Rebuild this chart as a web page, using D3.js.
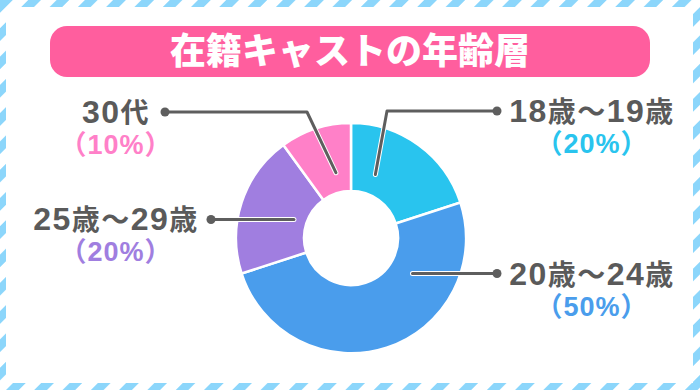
<!DOCTYPE html>
<html>
<head>
<meta charset="utf-8">
<script src="https://cdn.jsdelivr.net/npm/d3@7"></script>
<style>
  body { margin: 0; background: #fff; }
  svg { display: block; }
</style>
</head>
<body>
<div id="chart"></div>
<script>
// data
const title = "在籍キャストの年齢層"
const categories = ["18歳～19歳", "20歳～24歳", "25歳～29歳", "30代"]
const values = [20, 50, 20, 10]
const percentLabels = ["（20%）", "（50%）", "（20%）", "（10%）"]
const colors = ["#29c4ee", "#4a9dec", "#a07ee0", "#ff80c8"]

const width = 700
const height = 390
const cx = 351, cy = 238
const outerR = 115, innerR = 47

const labelFont = "'Liberation Sans', 'Noto Sans CJK JP', sans-serif"

// leader layout: anchor angle (deg, clockwise from top), elbow, dot
const leaders = [
  { angle: 21, r: 68, elbowX: 387, y: 111, dotX: 497, side: "right" },
  { angle: 120, r: 71, y: null, dotX: 497, side: "right" },
  { angle: 288, r: 60, y: null, dotX: 211, side: "left" },
  { angle: 347, r: 67, elbowX: 307, y: 112, dotX: 165, side: "left" }
]

const svg = d3.select("#chart").append("svg")
  .attr("width", width)
  .attr("height", height)

const defs = svg.append("defs")
const pat = defs.append("pattern")
  .attr("id", "stripes")
  .attr("patternUnits", "userSpaceOnUse")
  .attr("width", 20).attr("height", 20)
  .attr("patternTransform", "rotate(45)")
pat.append("rect").attr("width", 20).attr("height", 20).attr("fill", "#fff")
pat.append("rect").attr("width", 9).attr("height", 20).attr("fill", "#8cd6fb")

svg.append("rect").attr("width", width).attr("height", height).attr("fill", "url(#stripes)")
svg.append("rect")
  .attr("x", 6).attr("y", 7)
  .attr("width", width - 13).attr("height", height - 14)
  .attr("fill", "#fff")

// title
svg.append("rect")
  .attr("x", 50).attr("y", 26)
  .attr("width", 600).attr("height", 51)
  .attr("rx", 17)
  .attr("fill", "#ff5e9e")
svg.append("text")
  .attr("x", 350).attr("y", 64)
  .attr("text-anchor", "middle")
  .attr("fill", "#fff")
  .style("font-family", "'Noto Sans CJK JP', sans-serif")
  .style("font-weight", 900)
  .style("font-size", "36px")
  .text(title)

// donut
const pie = d3.pie().sort(null).value(d => d)
const arc = d3.arc().innerRadius(innerR).outerRadius(outerR)
const arcs = pie(values)

const g = svg.append("g").attr("transform", `translate(${cx},${cy})`)
g.selectAll("path")
  .data(arcs)
  .enter().append("path")
  .attr("d", arc)
  .attr("fill", (d, i) => colors[i])
  .attr("stroke", "#fff")
  .attr("stroke-width", 2.5)

// leaders
function pt(angle, r) {
  const a = angle * Math.PI / 180
  return [cx + r * Math.sin(a), cy - r * Math.cos(a)]
}

leaders.forEach((l, i) => {
  const start = pt(l.angle, l.r)
  let pts
  if (l.y === null) {
    pts = [start, [l.dotX, start[1]]]
    l.dotY = start[1]
  } else {
    pts = [start, [l.elbowX, l.y], [l.dotX, l.y]]
    l.dotY = l.y
  }
  const line = d3.line()
  svg.append("path")
    .attr("d", line(pts))
    .attr("fill", "none")
    .attr("stroke", "#fff")
    .attr("stroke-width", 5)
    .attr("stroke-linecap", "round")
    .attr("stroke-linejoin", "round")
  svg.append("path")
    .attr("d", line(pts))
    .attr("fill", "none")
    .attr("stroke", "#5e5e5e")
    .attr("stroke-width", 3)
    .attr("stroke-linecap", "round")
    .attr("stroke-linejoin", "round")
  svg.append("circle")
    .attr("cx", l.dotX).attr("cy", l.dotY)
    .attr("r", 4.5)
    .attr("fill", "#5e5e5e")

  const tx = l.side === "right" ? 592 : 116
  const name = svg.append("text")
    .attr("x", tx).attr("y", l.dotY + 11)
    .attr("text-anchor", "middle")
    .attr("fill", "#5a5a5a")
    .style("font-family", labelFont)
    .style("font-weight", 700)
    .style("letter-spacing", "1.5px")
  categories[i].match(/[0-9]+|[^0-9]+/g).forEach(part => {
    name.append("tspan")
      .style("font-size", /[0-9]/.test(part) ? "32px" : "28px")
      .text(part)
  })
  svg.append("text")
    .attr("x", tx).attr("y", l.dotY + 42)
    .attr("text-anchor", "middle")
    .attr("fill", colors[i])
    .style("font-family", labelFont)
    .style("font-weight", 700)
    .style("font-size", "27px")
    .style("letter-spacing", "1px")
    .text(percentLabels[i])
})
</script>
</body>
</html>
